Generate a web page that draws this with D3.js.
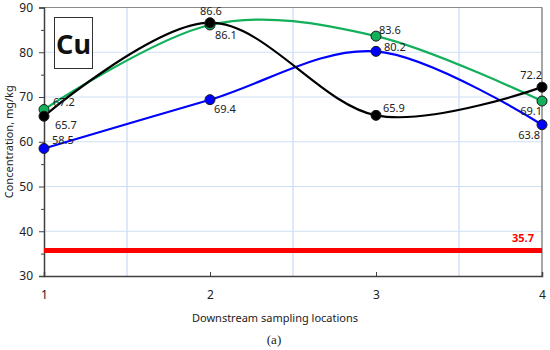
<!DOCTYPE html>
<html><head><meta charset="utf-8">
<script src="https://cdn.jsdelivr.net/npm/d3@7"></script>
<style>body{margin:0;background:#fff}svg{display:block}</style>
</head><body>
<svg id="c" width="550" height="350"></svg>
<script>
const locations = [1, 2, 3, 4];
const greenVals = [67.2, 86.1, 83.6, 69.1];
const blackVals = [65.7, 86.6, 65.9, 72.2];
const blueVals  = [58.5, 69.4, 80.2, 63.8];
const limitVal = 35.7;
const yTicks = [30, 40, 50, 60, 70, 80, 90];
const xTicks = [1, 2, 3, 4];
const element = "Cu";
const yTitle = "Concentration, mg/kg";
const xTitle = "Downstream sampling locations";
const caption = "(a)";

const svg = d3.select("#c");
const L = 44, R = 542, T = 7.5, B = 276;
const x = d3.scaleLinear().domain([1, 4]).range([L, R]);
const y = d3.scaleLinear().domain([30, 90]).range([B, T]);
const font = "'Noto Sans', sans-serif";

// grid
const g = svg.append("g");
[1.5, 2.5, 3.5].forEach(v => g.append("line").attr("x1", x(v)).attr("x2", x(v)).attr("y1", T).attr("y2", B)
  .attr("stroke", "#bcd4f2").attr("stroke-width", 1));
yTicks.slice(1, -1).forEach(v => g.append("line").attr("x1", L).attr("x2", R).attr("y1", y(v)).attr("y2", y(v))
  .attr("stroke", "#cfe0f5").attr("stroke-width", 1));

// frame
svg.append("line").attr("x1", L).attr("x2", R).attr("y1", T).attr("y2", T).attr("stroke", "#8a8a8a").attr("stroke-width", 1);
svg.append("line").attr("x1", R).attr("x2", R).attr("y1", T).attr("y2", B).attr("stroke", "#6a6a6a").attr("stroke-width", 1.2);

// axes
const yAxis = d3.axisLeft(y).tickValues(yTicks).tickSize(5).tickPadding(6);
const ya = svg.append("g").attr("transform", `translate(${L},0)`).call(yAxis);
ya.select(".domain").attr("stroke", "#404040").attr("stroke-width", 1.5);
ya.selectAll(".tick line").attr("stroke", "#404040");
ya.selectAll("text").attr("font-family", font).attr("font-size", 12).attr("fill", "#222");
const yMinor = d3.axisLeft(y).tickValues([35, 45, 55, 65, 75, 85]).tickSize(3).tickFormat("");
const ym = svg.append("g").attr("transform", `translate(${L},0)`).call(yMinor);
ym.select(".domain").remove();
ym.selectAll(".tick line").attr("stroke", "#404040");

const xAxis = d3.axisBottom(x).tickValues(xTicks).tickSize(-4).tickPadding(14).tickFormat(d3.format("d"));
const xa = svg.append("g").attr("transform", `translate(0,${B})`).call(xAxis);
xa.select(".domain").attr("stroke", "#404040").attr("stroke-width", 1.5);
xa.selectAll(".tick line").attr("stroke", "#404040");
xa.selectAll("text").attr("font-family", font).attr("font-size", 12).attr("fill", "#222");

// titles
svg.append("text").attr("transform", `translate(13,${(T + B) / 2}) rotate(-90)`).attr("text-anchor", "middle")
  .attr("font-family", font).attr("font-size", 11).attr("fill", "#222").text(yTitle);
svg.append("text").attr("x", 275).attr("y", 322).attr("text-anchor", "middle")
  .attr("font-family", font).attr("font-size", 11).attr("fill", "#222").text(xTitle);
svg.append("text").attr("x", 274).attr("y", 344).attr("text-anchor", "middle")
  .attr("font-family", "'Liberation Serif', serif").attr("font-size", 13).attr("fill", "#222").text(caption);

// Cu box
svg.append("rect").attr("x", 54.5).attr("y", 17.5).attr("width", 38).attr("height", 51)
  .attr("fill", "#fff").attr("stroke", "#333").attr("stroke-width", 1);
svg.append("text").attr("x", 73.5).attr("y", 54).attr("text-anchor", "middle").attr("font-family", font)
  .attr("font-weight", "bold").attr("font-size", 27).attr("fill", "#111").text(element);

// limit line
svg.append("line").attr("x1", L).attr("x2", R).attr("y1", y(limitVal)).attr("y2", y(limitVal))
  .attr("stroke", "#ff0000").attr("stroke-width", 5);
svg.append("text").attr("x", 534).attr("y", 242).attr("text-anchor", "end").attr("font-family", font)
  .attr("font-weight", "bold").attr("font-size", 11).attr("fill", "#ff0000").text(limitVal.toFixed(1));

// series
const series = [
  {vals: greenVals, color: "#12b05a"},
  {vals: blueVals, color: "#0000ff"},
  {vals: blackVals, color: "#000000"}
];
const line = d3.line().x((d, i) => x(locations[i])).y(d => y(d)).curve(d3.curveCardinal.tension(0));
series.forEach(s => {
  svg.append("path").datum(s.vals).attr("d", line).attr("fill", "none")
    .attr("stroke", s.color).attr("stroke-width", 2.2);
});
series.forEach(s => {
  svg.selectAll(null).data(s.vals).join("circle")
    .attr("cx", (d, i) => x(locations[i])).attr("cy", d => y(d)).attr("r", 5)
    .attr("fill", s.color).attr("stroke", "#1a1a1a").attr("stroke-width", 1);
});

// labels: [value, location, dx, dy, anchor]
const labelSpecs = [
  [greenVals[0], 1, 9, -4, "start"], [blackVals[0], 1, 11, 13, "start"], [blueVals[0], 1, 8, -4, "start"],
  [blackVals[1], 2, 1, -8, "middle"], [greenVals[1], 2, 5, 14, "start"], [blueVals[1], 2, 4, 13, "start"],
  [greenVals[2], 3, 3, -2, "start"], [blueVals[2], 3, 8, 0, "start"], [blackVals[2], 3, 7, -3, "start"],
  [blackVals[3], 4, 0, -8, "end"], [greenVals[3], 4, 0, 14, "end"], [blueVals[3], 4, -2, 14, "end"]
];
svg.selectAll(null).data(labelSpecs).join("text")
  .attr("x", d => x(d[1]) + d[2]).attr("y", d => y(d[0]) + d[3]).attr("text-anchor", d => d[4])
  .attr("font-family", font).attr("font-size", 11).attr("fill", "#222").text(d => d[0].toFixed(1));
</script>
</body></html>
